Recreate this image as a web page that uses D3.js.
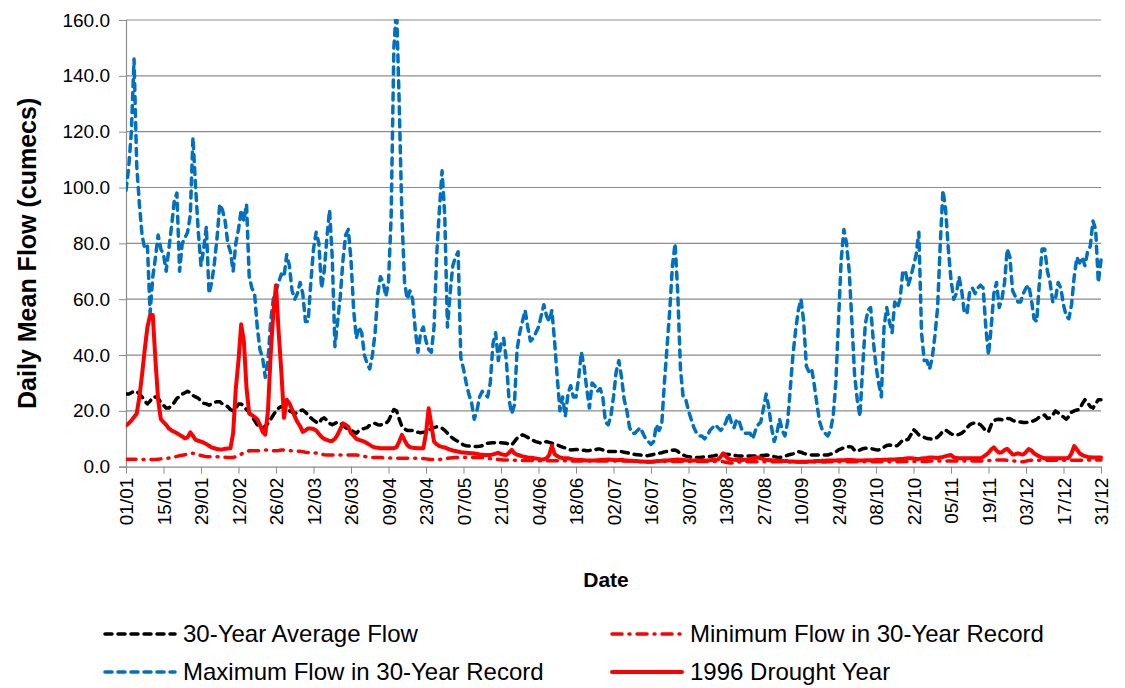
<!DOCTYPE html>
<html>
<head>
<meta charset="utf-8">
<script src="https://cdn.jsdelivr.net/npm/d3@7"></script>
<style>
  body { margin: 0; background: #fff; }
  svg { display: block; font-family: "Liberation Sans", Arial, sans-serif; }
</style>
</head>
<body>
<script>
// tick labels every 14 days (non-leap year, day 0 = 01/01)
var dateLabels = ["01/01","15/01","29/01","12/02","26/02","12/03","26/03","09/04","23/04",
  "07/05","21/05","04/06","18/06","02/07","16/07","30/07","13/08","27/08","10/09",
  "24/09","08/10","22/10","05/11","19/11","03/12","17/12","31/12"];
var yTicks = [0, 20, 40, 60, 80, 100, 120, 140, 160];

// 30-Year Average Flow (cumecs), one value per day
var avgFlow = [
  26,26,26.5,27,27,26,25,23.5,22.5,23.5,
  25,25,24.5,23,22,21,21,22,23,24.5,
  25,26,26.5,27,26.5,25.5,25,24.5,23.5,22.7,
  22.5,22,22.5,23,23.3,23.3,22.5,22,21.5,20.5,
  20,21,22.5,22.5,21.5,20.5,19.5,18,16.5,15,
  14.5,13.7,14.5,15.5,17,18.5,20,21,21.5,21.5,
  20.5,20,19.5,19,19.5,20,20.3,19.5,18.5,17.5,
  16.7,16,15.5,17,17.5,16.7,15.5,15,15.5,16,
  15.5,15,14,13.5,13,12.5,12,13,13.5,13.7,
  14,14.9,15.3,15.5,15,14.9,15.3,15.5,16.5,18.5,
  20.5,20,17,14.5,13.5,13,13,13,12.6,12.3,
  12.2,12.3,12.5,13,13.7,14,14.3,14.2,13.8,13,
  12,11,10.2,9.6,9,8.4,7.8,7.5,7.4,7.3,
  7.2,7.2,7.3,7.5,8,8.4,8.5,8.6,8.6,8.6,
  8.6,8.5,8.4,8,7.8,9,10.2,11,11.4,11,
  10.5,9.8,9.4,9,8.7,8.4,8.7,9,8.7,8.4,
  8.1,7.8,7.4,7,6.7,6.3,6,6.1,6.2,6.1,
  6,5.9,5.7,5.8,6,6,6.3,6.3,6,5.5,
  5.4,5.4,5.4,5.5,5.6,5.4,5.2,5,4.8,4.5,
  4.4,4.3,4.2,4,3.9,4,4.2,4.4,4.6,4.8,
  5,5.3,5.5,5.7,5.9,6,5.5,4.6,4.2,3.8,
  3.6,3.4,3.3,3.3,3.3,3.4,3.5,3.6,3.7,3.8,
  4,4.2,4.3,4.4,4.5,4.4,4.2,4.1,3.9,3.8,
  3.8,3.8,3.8,3.8,3.8,3.8,3.9,4,4,4.2,
  4.1,3.9,3.6,3.4,3.3,3.5,3.8,4.1,4.4,4.6,
  5,5.4,5.2,4.8,4.5,4.3,4.2,4.2,4.2,4.2,
  4.2,4.2,4.2,4.5,4.8,5.3,6,6.4,6.8,7,
  7.2,7,5.8,5.5,6,6.4,6.6,6.6,6.5,6.3,
  6.1,6,6.3,7,7.6,7.8,7.5,7.3,7.6,8.5,
  9.6,9.5,9.8,11.4,13.3,12.5,11.4,11,10.5,10.1,
  10,9.8,10,10.6,11.5,12.8,13.1,12.5,11.8,11.4,
  11.3,11.6,12,12.8,14,15,15.5,15.7,15.6,15,
  14,12.8,12.5,15,16.5,16.9,17,16.8,17,17.3,
  17.2,16.6,16.2,16,16,15.8,15.8,16,16.1,16.5,
  17,17.8,18.3,18.5,17.3,17.5,18.5,20,19.3,18.5,
  17.8,17,18,19.5,20,20.3,20.5,22.5,24,23,
  21.5,21,22.5,24,24
];

// Minimum Flow in 30-Year Record
var minFlow = [
  2.7,2.7,2.7,2.7,2.7,2.6,2.6,2.6,2.6,2.6,
  2.6,2.6,2.7,2.8,2.9,3,3.1,3.3,3.5,3.7,
  3.9,4.1,4.3,4.5,4.7,4.8,4.6,4.3,4,3.8,
  3.6,3.6,3.6,3.6,3.6,3.5,3.4,3.4,3.3,3.3,
  3.3,3.6,4,4.5,5,5.4,5.7,5.7,5.7,5.7,
  5.8,5.9,6,6,5.9,5.7,5.7,5.8,6,6,
  5.8,5.7,5.7,5.7,5.6,5.5,5.4,5.2,5.1,5,
  5,4.9,4.7,4.5,4.3,4.2,4.2,4.2,4.2,4.2,
  4.2,4.2,4.2,4.2,4.2,4.2,4.2,4.1,3.9,3.7,
  3.5,3.4,3.3,3.3,3.3,3.3,3.2,3.2,3.1,3.1,
  3,3,3,3,3,3,3,3,3,3,
  3,2.9,2.8,2.7,2.6,2.6,2.6,2.6,2.7,2.8,
  3,3.1,3.2,3.3,3.3,3.3,3.3,3.3,3.3,3.3,
  3.3,3.3,3.3,3.3,3.2,3,2.9,2.8,2.7,2.6,
  2.5,2.4,2.4,2.4,2.3,2.3,2.3,2.2,2.2,2.2,
  2.2,2.2,2.2,2.2,2.2,2.1,2.1,2.1,2.1,2.1,
  2.1,2.1,2.1,2.1,2.1,2,2,2,2,2,
  2,2,2,2,2,2,2,2,2,2,
  2,2,2,2,2,2,2,2,2,2,
  1.9,1.9,1.8,1.8,1.7,1.7,1.7,1.8,1.9,1.9,
  1.9,1.9,1.9,1.9,1.9,1.9,1.9,1.9,1.9,1.9,
  1.9,1.9,1.9,1.9,1.9,1.9,1.9,1.9,1.9,1.9,
  1.9,1.9,1.9,1.8,1.6,1.4,1.3,1.3,1.5,1.7,
  1.8,1.8,1.8,1.8,1.8,1.8,1.8,1.8,1.8,1.8,
  1.8,1.8,1.8,1.8,1.8,1.8,1.8,1.8,1.7,1.7,
  1.7,1.7,1.7,1.7,1.7,1.7,1.7,1.7,1.7,1.7,
  1.7,1.7,1.8,1.8,1.8,1.8,1.8,1.8,1.8,1.8,
  1.8,1.8,1.8,1.8,1.8,1.8,1.8,1.8,1.8,1.8,
  1.8,1.8,1.8,1.8,1.8,1.8,1.8,1.8,1.8,1.8,
  1.9,1.9,1.9,1.9,1.9,1.9,1.9,1.9,1.9,1.9,
  2,2,2,2,2,2,2,2,2,2,
  2,2,2,2,2,2,2,2,2,2,
  2.1,2.1,2.2,2.3,2.4,2.4,2.4,2.4,2.4,2.3,
  2.2,2.1,2,1.9,1.8,1.8,2,2.2,2.3,2.3,
  2.3,2.3,2.3,2.3,2.3,2.3,2.3,2.3,2.3,2.3,
  2.3,2.3,2.3,2.3,2.3,2.3,2.3,2.3,2.4,2.4,
  2.4,2.4,2.4,2.4,2.4
];

// Maximum Flow in 30-Year Record
var maxFlow = [
  99,107,120,146,108,94,83,78,79,55,
  68,75,83,78,76,70,78,86,95,98,
  70,80,82,84,90,118,100,84,72,78,
  86,62,66,73,82,94,92,88,80,77,
  70,80,85,92,88,94,68,64,62,50,
  42,39,32,38,52,60,63,66,69,68,
  76,72,63,60,62,66,62,52,52,66,
  78,84,80,64,70,82,92,75,43,52,
  61,74,83,85,74,56,46,50,48,40,
  37,35,40,48,62,68,66,61,66,90,
  150,165,130,90,66,60,63,60,49,41,
  48,50,45,42,41,50,76,92,106,90,
  50,62,72,75,77,39,35,30,26,23,
  17,20,25,27,26,25,30,44,48,38,
  44,46,38,24,19,22,42,48,52,56,
  50,45,46,48,50,54,58,54,52,56,
  45,32,20,25,18,26,29,25,25,32,
  41,36,28,21,30,29,27,28,25,16,
  15,18,25,34,38,32,24,20,14,12,
  12,13,14,12,10,9,8,9,15,13,
  15,30,43,56,72,80,62,35,25,24,
  20,17,14,12,11,11,10,11,13,14,
  15,14,13,14,16,19,16,14,17,16,
  13,12,12,12,10,13,15,16,21,26,
  21,14,9,12,17,13,11,16,28,40,
  49,56,60,52,36,34,35,29,22,16,
  13,12,11,13,18,30,52,74,85,80,
  70,52,33,24,18,35,51,56,57,45,
  36,30,25,50,57,52,48,59,57,60,
  70,70,65,68,72,76,84,48,38,38,
  35,39,47,57,80,99,92,78,67,60,
  62,68,63,55,55,63,64,62,64,65,
  64,50,40,50,62,66,57,60,66,78,
  75,63,61,59,59,62,64,65,60,53,
  52,66,78,78,70,66,59,60,66,64,
  58,54,53,58,68,75,73,75,72,77,
  79,88,85,66,74
];

// 1996 Drought Year
var droughtFlow = [
  14.8,15.5,16.5,17.8,19,25,33,42,50,54.3,
  54.3,38,24,17,16,15,13.7,13,12.5,12,
  11.4,10.8,10.2,10.5,12.3,11,9.6,9.3,9,8.6,
  8.1,7.5,6.9,6.6,6.3,6.2,6.2,6.4,6.5,6.6,
  12,28,38,51,45,28,19,18.5,17.8,17,
  15,12.5,11.5,20,40,55,65,48,34,17.5,
  24,22.7,20.5,18,16,14.5,12.5,13,13.7,13.7,
  13.5,13,11.8,10.7,10,9.6,9.2,9.2,10,11.5,
  13.5,15.5,15,14.3,12,11,10,9.6,9.3,9,
  8.4,7.8,7.2,6.9,6.8,6.6,6.6,6.6,6.6,6.6,
  6.6,7,9,11.4,9.5,7.8,7,6.8,6.7,6.6,
  6.6,6.6,12,20.9,15,9,8,7.4,7.1,6.9,
  6.5,6.1,5.8,5.6,5.4,5.2,5.1,5,4.9,4.8,
  4.7,4.6,4.4,4.3,4.2,4.2,4.2,4.4,4.7,5,
  4.5,4.3,4.2,5,6,4.8,4.3,4,3.7,3.5,
  3.3,3.2,3.1,2.9,2.8,2.6,2.7,3,4.2,7.5,
  4.5,3.8,3.3,3.1,3,3,2.8,2.6,2.5,2.4,
  2.4,2.3,2.2,2.2,2.2,2.2,2.3,2.4,2.4,2.5,
  2.6,2.5,2.4,2.3,2.4,2.5,2.3,2.2,2.1,2.1,
  2,2,1.9,1.9,1.8,1.8,1.8,1.9,2,2,
  2.1,2.2,2.2,2.3,2.4,2.5,2.6,2.5,2.4,2.3,
  2.2,2.2,2.2,2.3,2.2,2.2,2.1,2.2,2.3,2.4,
  2.5,2.6,3.5,4.8,3.6,2.8,2.6,2.5,2.4,2.4,
  2.4,2.5,2.6,2.8,3,3.2,3.3,3,2.7,2.5,
  2.4,2.3,2.2,2.2,2.1,2.1,2,2,1.9,1.9,
  1.8,1.8,1.8,1.8,1.8,1.9,1.9,2,2,2,
  2.1,2.1,2.2,2.2,2.2,2.2,2.3,2.3,2.3,2.4,
  2.4,2.4,2.3,2.2,2.2,2.2,2.3,2.3,2.3,2.3,
  2.4,2.4,2.4,2.5,2.5,2.6,2.6,2.6,2.7,2.8,
  2.8,2.9,3,3,2.9,2.8,2.8,2.9,3,3.1,
  3.3,3.3,3.2,3.1,3.3,3.5,3.8,4,4.2,3.4,
  3.1,3,3,3,3,3,3,3,3,3,
  3.5,4.2,5,6.2,6.9,5.8,5,5.2,6,6.4,
  5.4,4.4,4.5,4.8,4.5,4.4,5.2,6.3,5.8,4.8,
  4.2,3.7,3.3,3,3,3,3,3,3,3,
  3,3,3.2,4.8,7.4,6.2,4.8,4.2,3.8,3.5,
  3.4,3.3,3.3,3.3,3.3
];

(function() {

    var width = 1125,
        height = 688;

    var left = 126, right = 1101, top = 20, bottom = 466.7;

    var svg = d3.select("body")
        .append("svg")
        .attr("width", width)
        .attr("height", height);

    svg.append("rect")
        .attr("width", width)
        .attr("height", height)
        .attr("fill", "#fff");

    var x = d3.scaleLinear()
        .domain([0, 364])
        .range([left, right]);

    var y = d3.scaleLinear()
        .domain([0, 160])
        .range([bottom, top]);

    svg.append("defs").append("clipPath")
        .attr("id", "plot-clip")
        .append("rect")
        .attr("x", left)
        .attr("y", top - 1)
        .attr("width", right - left + 4)
        .attr("height", bottom - top + 2);

    // horizontal gridlines
    svg.append("g")
        .selectAll("line")
        .data(yTicks.filter(function(d) { return d > 0; }))
        .enter().append("line")
        .attr("x1", left)
        .attr("x2", right)
        .attr("y1", function(d) { return y(d); })
        .attr("y2", function(d) { return y(d); })
        .attr("stroke", "#8c8c8c")
        .attr("stroke-width", 1.2);

    // y axis
    var yAxis = d3.axisLeft(y)
        .tickValues(yTicks)
        .tickFormat(d3.format(".1f"))
        .tickSize(7)
        .tickPadding(9);

    var gy = svg.append("g")
        .attr("transform", "translate(" + left + ",0)")
        .call(yAxis);
    gy.select(".domain").attr("stroke", "#8c8c8c").attr("stroke-width", 1.2);
    gy.selectAll(".tick line").attr("stroke", "#8c8c8c");
    gy.selectAll(".tick text")
        .attr("font-size", 19)
        .attr("fill", "#000")
        .style("font-family", "'Liberation Sans', Arial, sans-serif");

    // x axis, tick every 14 days
    var xTickDays = dateLabels.map(function(d, i) { return i * 14; });
    var xAxis = d3.axisBottom(x)
        .tickValues(xTickDays)
        .tickFormat(function(d, i) { return dateLabels[i]; })
        .tickSize(7)
        .tickSizeOuter(0);

    var gx = svg.append("g")
        .attr("transform", "translate(0," + bottom + ")")
        .call(xAxis);
    gx.select(".domain").attr("stroke", "#8c8c8c").attr("stroke-width", 1.2);
    gx.selectAll(".tick line").attr("stroke", "#8c8c8c");
    gx.selectAll(".tick text")
        .attr("font-size", 19)
        .attr("fill", "#000")
        .style("font-family", "'Liberation Sans', Arial, sans-serif")
        .attr("text-anchor", "end")
        .attr("transform", "rotate(-90)")
        .attr("x", -11)
        .attr("y", 0)
        .attr("dy", "0.35em");

    // series lines
    var line = d3.line()
        .x(function(d, i) { return x(i); })
        .y(function(d) { return y(d); });

    var series = [
        { name: "30-Year Average Flow", values: avgFlow, color: "#000", width: 3.5, dash: "7,6", cap: "round" },
        { name: "Minimum Flow in 30-Year Record", values: minFlow, color: "#ff0000", width: 3.5, dash: "10,7,1,7", cap: "round" },
        { name: "Maximum Flow in 30-Year Record", values: maxFlow, color: "#0070c0", width: 3.5, dash: "7,6", cap: "round" },
        { name: "1996 Drought Year", values: droughtFlow, color: "#ff0000", width: 4, dash: null, cap: "round" }
    ];

    var plot = svg.append("g").attr("clip-path", "url(#plot-clip)");

    series.forEach(function(s) {
        plot.append("path")
            .datum(s.values)
            .attr("d", line)
            .attr("fill", "none")
            .attr("stroke", s.color)
            .attr("stroke-width", s.width)
            .attr("stroke-linejoin", "round")
            .attr("stroke-linecap", s.cap)
            .attr("stroke-dasharray", s.dash);
    });

    // axis titles
    svg.append("text")
        .attr("transform", "translate(36," + ((top + bottom) / 2 + 10) + ") rotate(-90)")
        .attr("text-anchor", "middle")
        .attr("font-size", 25)
        .attr("font-weight", "bold")
        .text("Daily Mean Flow (cumecs)");

    svg.append("text")
        .attr("x", 606)
        .attr("y", 587)
        .attr("text-anchor", "middle")
        .attr("font-size", 21)
        .attr("font-weight", "bold")
        .text("Date");

    // legend, two columns
    var legendPos = [
        { s: series[0], x: 105, y: 634 },
        { s: series[1], x: 612, y: 634 },
        { s: series[2], x: 105, y: 672 },
        { s: series[3], x: 612, y: 672 }
    ];

    var legend = svg.append("g");
    legendPos.forEach(function(p) {
        legend.append("line")
            .attr("x1", p.x)
            .attr("x2", p.x + 70)
            .attr("y1", p.y)
            .attr("y2", p.y)
            .attr("stroke", p.s.color)
            .attr("stroke-width", p.s.width)
            .attr("stroke-linecap", p.s.cap)
            .attr("stroke-dasharray", p.s.dash);
        legend.append("text")
            .attr("x", p.x + 78)
            .attr("y", p.y)
            .attr("dy", "0.35em")
            .attr("font-size", 24)
            .text(p.s.name);
    });

})();
</script>
</body>
</html>
